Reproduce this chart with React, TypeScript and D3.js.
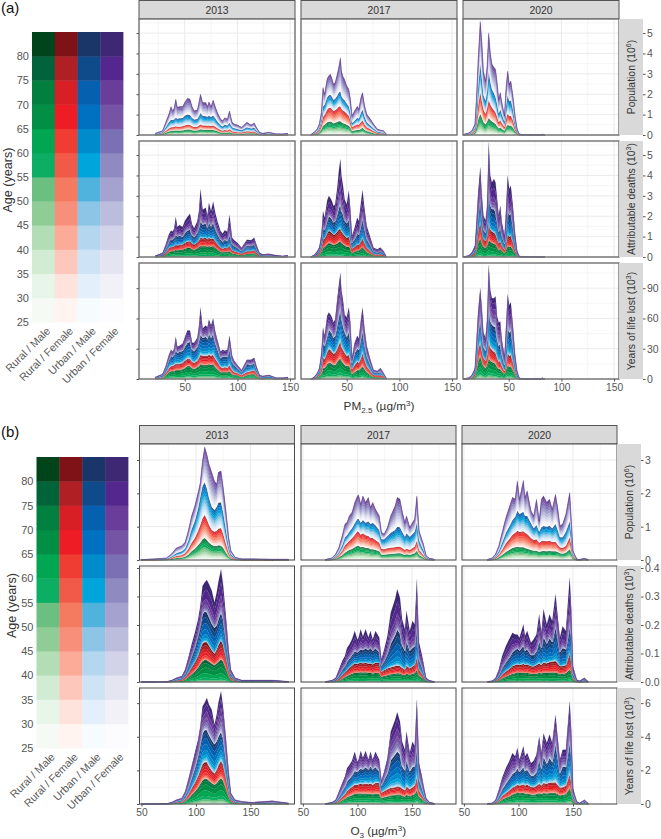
import React, { useEffect, useRef } from "react";
import * as d3 from "d3";

// cumulative stack tops: rural male, rural female, urban male, all groups
// units: population 10^4, PM deaths 10, O3 deaths 1, PM YLL 10^3, O3 YLL 10
const pm13X = [22,29,32,35,37,38.5,40,41.5,43,45,48,50,52.5,55,57,59,62,63.5,65,67,70,71.5,73,75,77,79,81,84,86,88,90.5,92.5,95,97,100,104,109,113,116,118,121,124,130,137,143,148];
const pm13PopRM = [1,4,11,17,20,20,21,22,21,21,22,25,27,27,23,21,22,25,28,26,25,24,25,24,25,22,18,12,11,12,11,13,9,8,7,6,9,8,8,6,2,1,1,1,1,1];
const pm13PopRF = [2,7,20,32,38,38,39,43,41,41,43,47,50,49,43,39,40,46,52,47,46,45,46,44,46,40,33,24,21,24,22,28,19,16,14,12,18,16,17,11,4,2,3,1,1,2];
const pm13PopUM = [5,13,38,62,75,74,76,85,80,82,84,94,100,98,84,76,78,92,108,94,92,90,94,88,96,82,66,48,42,50,47,60,38,33,29,23,38,32,35,22,8,4,7,3,3,4];
const pm13PopAll = [8,21,62,103,140,119,131,176,136,140,140,160,180,176,140,119,124,160,201,160,160,140,163,140,172,140,111,78,70,85,78,119,62,54,49,38,62,49,59,38,13,8,13,5,5,8];
const pm13DeaRM = [1,4,13,26,30,30,32,36,34,36,37,42,46,47,40,36,44,50,55,54,55,50,55,52,55,46,38,27,25,28,26,30,19,17,14,10,16,18,20,13,4,2,3,1,1,1];
const pm13DeaRF = [2,7,23,45,50,51,54,60,58,60,62,70,76,78,67,62,72,84,95,92,95,88,95,88,92,78,65,46,42,47,44,56,34,29,25,18,30,30,34,24,8,4,5,3,2,3];
const pm13DeaUM = [4,13,42,75,88,86,94,110,100,106,100,118,130,135,108,98,120,145,176,160,165,145,170,150,170,140,115,85,75,85,80,110,62,55,46,30,58,55,62,42,14,8,10,5,3,5];
const pm13DeaAll = [6,21,62,112,130,124,140,196,147,157,147,175,196,212,160,141,176,225,332,232,242,201,265,225,271,217,176,127,114,131,124,206,95,82,70,45,85,82,95,62,21,13,16,8,5,8];
const pm13YllRM = [0,1,4,7,8,8,8,9,9,9,10,11,13,13,11,10,12,13,15,14,14,14,15,14,15,12,10,7,7,7,7,8,5,4,4,2,4,5,5,3,1,0,1,0,0,0];
const pm13YllRF = [1,2,6,11,13,13,14,15,15,15,16,18,20,20,17,16,18,21,24,23,23,23,24,23,24,20,17,12,11,12,11,14,9,7,6,4,7,8,9,6,2,1,1,0,0,1];
const pm13YllUM = [1,4,10,19,23,22,24,29,26,27,28,32,36,37,29,28,32,38,44,41,42,40,45,41,45,36,30,21,22,22,22,30,17,14,11,7,15,14,16,10,3,2,3,1,1,1];
const pm13YllAll = [2,5,13,24,29,27,30,42,32,33,35,41,48,48,36,36,41,52,71,50,53,51,59,53,60,47,39,27,29,28,29,43,23,18,14,9,19,19,21,13,4,3,4,1,1,2];

const pm17X = [16,19,22,24,26,27.5,29,31.5,33,34.5,36,37.5,39,41,42.5,44,45,46.5,48,50,52,53.5,55,57.5,60,61.5,63.5,65,67,69,72.5,75.5,79,82,85,87.5];
const pm17PopRM = [0,3,6,12,28,45,50,62,65,66,62,57,60,64,68,68,62,58,55,50,45,35,18,22,25,25,30,35,25,18,13,9,5,4,3,1];
const pm17PopRF = [1,6,12,24,55,90,98,125,133,135,127,118,122,130,140,140,128,120,115,105,95,72,38,45,52,50,62,72,52,38,28,19,10,8,7,2];
const pm17PopUM = [1,9,19,36,80,140,148,185,195,198,188,172,178,192,208,215,190,178,170,155,140,108,58,70,85,80,108,125,88,62,46,32,17,14,11,3];
const pm17PopAll = [2,13,29,54,111,234,201,278,291,299,278,250,258,299,335,380,315,287,274,242,225,176,95,119,141,127,185,209,144,103,78,54,29,24,21,5];
const pm17DeaRM = [0,2,7,12,28,48,50,64,70,68,64,60,62,68,74,78,70,64,58,52,52,42,22,27,34,33,42,50,38,26,16,8,7,8,5,1];
const pm17DeaRF = [1,4,12,22,50,88,92,118,130,125,118,110,112,125,135,140,125,115,105,95,100,78,42,50,62,60,78,92,70,48,30,15,13,16,10,2];
const pm17DeaUM = [1,7,20,35,78,140,135,180,200,195,185,170,175,210,240,260,225,210,180,165,185,140,70,88,115,110,155,190,140,90,58,28,24,28,18,3];
const pm17DeaAll = [2,10,29,49,111,225,193,278,299,290,274,250,258,338,421,479,399,350,283,258,325,235,103,144,193,176,266,327,234,152,95,45,38,46,29,5];
const pm17YllRM = [0,0,2,3,6,11,11,15,16,16,15,14,14,17,19,21,18,16,14,13,13,11,5,7,9,9,11,13,10,7,4,2,2,2,1,0];
const pm17YllRF = [0,1,3,5,12,21,20,27,30,29,27,25,26,30,34,38,32,29,26,23,24,19,10,14,17,16,21,26,19,13,8,4,4,4,3,0];
const pm17YllUM = [0,1,5,8,19,36,33,43,49,47,45,41,43,54,62,70,60,53,47,42,47,38,16,26,30,29,40,48,34,23,14,7,6,7,4,1];
const pm17YllAll = [0,2,6,11,26,51,43,63,66,64,61,56,59,79,93,105,88,78,64,61,71,56,21,36,43,40,59,71,49,33,19,9,8,11,6,1];

const pm20X = [7,12,15,18,19.5,21,23,24.5,26,28,29.5,31,32.5,34,36,37.5,39,40.5,42,43.5,46,47.5,49,50.5,52,54,56,58,60,63,80,82,84];
const pm20PopRM = [0,2,4,12,40,75,103,85,62,52,65,84,74,66,60,54,42,32,35,30,20,38,50,45,46,36,18,5,1,0,0,1,0];
const pm20PopRF = [1,4,9,24,75,145,209,165,125,103,130,172,150,135,122,110,88,62,72,58,38,80,105,92,95,72,35,10,2,0,0,1,0];
const pm20PopUM = [1,6,13,35,120,235,348,275,195,168,215,310,260,225,205,185,150,105,125,100,65,145,195,165,170,125,60,18,3,1,0,2,0];
const pm20PopAll = [2,10,21,54,193,372,560,454,315,266,340,503,405,349,332,324,258,176,209,160,95,234,315,250,266,192,95,29,5,2,0,4,0];
const pm20DeaRM = [0,1,5,12,42,72,96,70,52,45,60,84,76,70,66,62,50,36,42,32,20,38,55,50,52,38,20,5,1,0,0,0,0];
const pm20DeaRF = [1,3,9,22,75,130,178,130,90,78,105,170,135,125,120,112,92,68,80,58,36,75,115,100,105,75,38,10,2,0,0,1,0];
const pm20DeaUM = [1,4,14,34,118,205,292,200,135,120,165,350,255,235,235,220,175,125,155,105,65,145,245,205,215,155,72,19,3,1,0,2,0];
const pm20DeaAll = [2,7,23,56,186,317,440,300,203,178,252,562,399,366,382,366,284,203,252,170,105,235,399,333,350,252,121,31,5,2,0,3,0];
const pm20YllRM = [0,0,1,3,11,18,23,18,13,11,15,21,18,17,16,15,12,10,10,8,5,10,14,12,13,9,5,1,0,0,0,0,0];
const pm20YllRF = [0,1,2,5,18,30,36,28,21,18,24,38,31,29,27,26,21,17,18,13,8,17,26,23,24,17,8,2,0,0,0,0,0];
const pm20YllUM = [0,1,3,8,27,45,61,45,32,28,39,73,58,54,52,52,40,33,35,24,14,33,54,46,48,34,16,5,1,0,0,1,0];
const pm20YllAll = [0,1,4,11,40,68,90,70,46,41,60,113,88,80,80,82,62,56,57,39,23,53,84,73,76,53,25,8,1,0,0,1,0];

const o13X = [50,62,73,77.5,82,87,90,93,96,99,102,104,106,108,110,112,114.5,117,119,120.5,123,125,127.5,130,132,136,142,151,170,185];
const o13PopRM = [0,0,1,3,6,7,10,16,26,34,45,52,62,66,60,52,45,42,42,44,43,36,22,10,4,1,0,0,0,0];
const o13PopRF = [0,1,2,6,12,14,20,33,52,66,88,105,125,135,122,105,90,85,88,94,96,78,48,22,9,3,1,1,1,1];
const o13PopUM = [1,2,4,10,20,26,34,58,92,118,155,190,222,233,215,185,160,150,160,172,173,142,90,42,17,5,2,2,1,1];
const o13PopAll = [1,3,6,18,36,43,53,88,133,163,203,233,298,340,318,288,263,238,228,263,268,218,148,68,28,8,3,3,2,2];
const o13DeaRM = [0,0,0,1,3,5,9,18,28,38,52,64,74,78,77,72,65,60,66,72,80,72,50,24,9,2,1,1,1,0];
const o13DeaRF = [0,0,0,2,6,9,18,34,52,70,95,118,135,140,140,128,112,100,115,130,147,130,90,45,18,5,2,2,2,0];
const o13DeaUM = [0,0,1,4,10,15,30,58,90,122,165,200,238,248,245,228,205,190,200,220,245,220,150,78,30,9,4,4,4,1];
const o13DeaAll = [0,0,1,6,15,21,44,85,132,173,220,267,337,349,358,343,320,279,314,349,396,337,231,115,44,15,7,7,7,2];
const o13YllRM = [0,0,0,2,6,9,18,34,55,75,100,122,142,150,150,138,125,115,125,140,155,140,95,46,16,5,2,1,2,1];
const o13YllRF = [0,0,1,4,10,15,30,60,95,128,170,205,238,248,250,225,200,182,205,230,257,232,160,80,28,9,5,3,5,2];
const o13YllUM = [0,1,1,6,16,24,50,96,155,215,290,360,420,440,440,410,380,355,375,400,430,390,265,135,46,16,8,5,10,3];
const o13YllAll = [0,1,2,10,26,36,75,145,224,305,384,461,580,602,630,590,560,471,531,600,670,570,392,194,65,26,16,10,20,6];

const o17X = [70.5,76.5,80,83,86,88.5,90.5,92.5,95,97.5,100,101,103,105,107.5,110,112,114,116.5,120,122,124.5,127.5,130.5,134.5,136.5,139,141,143.5,145,148,150.5,152.5,154.5,156.5,159,160.5,163,166,170.5];
const o17PopRM = [0,1,4,8,14,22,26,30,33,38,43,43,38,40,36,36,32,32,30,26,16,16,17,18,19,20,20,18,15,17,15,18,20,28,15,10,7,2,1,0];
const o17PopRF = [0,2,7,15,28,44,50,58,65,75,86,85,76,80,74,72,66,66,60,52,34,32,35,37,38,40,40,36,30,34,30,36,40,58,30,20,14,4,2,1];
const o17PopUM = [1,4,11,24,44,68,74,85,95,110,123,124,112,120,112,116,108,112,104,90,62,62,72,82,90,100,98,85,70,80,70,78,85,112,60,40,30,8,3,1];
const o17PopAll = [1,6,18,38,73,108,113,133,143,173,193,196,168,193,173,188,158,173,153,133,83,78,98,133,163,188,183,148,113,133,98,113,123,193,88,63,48,13,5,2];
const o17DeaRM = [0,1,2,6,13,18,22,26,30,34,33,34,35,34,35,33,33,31,33,32,19,22,25,28,30,32,31,27,25,30,26,30,32,44,24,17,12,3,1,0];
const o17DeaRF = [0,2,4,13,25,34,42,50,58,66,64,66,68,66,68,65,66,62,68,68,36,42,48,52,56,58,56,50,44,58,48,54,60,91,45,30,22,5,2,0];
const o17DeaUM = [1,4,9,24,44,56,72,82,95,108,104,108,115,112,118,112,120,110,118,105,58,74,100,135,165,185,170,130,110,145,110,120,125,197,80,55,38,9,3,1];
const o17DeaAll = [1,6,15,44,74,91,120,131,150,179,148,156,185,159,185,156,179,149,179,156,80,114,161,243,290,325,296,220,185,249,179,214,202,360,138,97,68,15,6,2];
const o17YllRM = [0,2,5,12,24,32,42,48,54,62,62,64,64,62,64,60,62,58,62,60,36,42,46,52,54,58,56,50,45,55,47,55,60,85,45,32,22,6,2,0];
const o17YllRF = [1,4,9,22,44,60,78,90,102,115,115,118,120,118,122,118,122,115,125,125,68,78,88,96,100,105,102,92,82,105,88,100,110,164,82,56,40,10,3,1];
const o17YllUM = [1,7,15,42,78,105,135,150,170,198,190,200,210,205,218,205,224,205,220,195,110,145,185,260,295,313,295,225,200,265,195,220,225,343,150,100,70,20,6,2];
const o17YllAll = [2,10,25,75,125,164,214,230,257,311,250,263,315,273,315,263,311,263,311,263,139,194,273,430,500,546,491,370,323,430,305,370,343,620,243,170,115,35,12,4];

const o20X = [71.5,76,79,82,85,88.5,91.5,94.5,97,99,101,104.5,106,108,111.5,114,116.5,119,121,123,126,128.5,131,134,136,138,140.5,143.5,147,148.5,150,153.5,156,160.5,164];
const o20PopRM = [0,1,3,8,15,24,30,36,38,40,38,38,36,34,30,28,28,24,26,27,26,27,26,26,24,20,19,22,32,22,6,0,0,1,0];
const o20PopRF = [0,2,7,16,31,50,62,76,82,88,84,86,82,78,66,60,62,52,56,58,56,58,54,55,46,38,36,42,68,44,12,1,0,2,0];
const o20PopUM = [1,4,11,27,52,82,100,120,130,148,138,145,132,133,110,95,105,85,98,102,100,103,95,108,90,68,68,85,116,75,18,2,1,3,1];
const o20PopAll = [1,6,18,43,83,128,158,188,183,238,183,240,188,208,148,133,183,118,183,193,173,183,153,198,158,103,108,138,203,118,28,3,1,5,1];
const o20DeaRM = [0,1,2,7,14,20,25,30,32,35,33,34,32,33,30,29,30,33,31,34,33,34,34,34,32,28,30,32,44,36,10,1,0,1,0];
const o20DeaRF = [0,2,4,13,27,38,46,56,60,62,60,64,60,62,56,55,60,66,60,68,66,70,72,74,66,56,56,60,100,72,16,2,1,3,0];
const o20DeaUM = [1,3,8,24,50,70,85,105,112,118,110,128,110,115,95,95,108,145,120,160,135,155,140,195,155,105,120,115,197,160,30,4,2,8,1];
const o20DeaAll = [1,4,15,44,91,126,150,173,167,167,155,202,161,179,138,150,167,237,173,255,202,237,214,308,231,155,196,179,366,255,56,9,4,15,2];
const o20YllRM = [0,1,4,14,28,38,46,58,62,71,65,68,62,64,58,57,60,65,60,66,64,66,66,66,60,52,55,60,95,70,18,2,1,3,0];
const o20YllRF = [1,3,7,24,48,66,80,98,105,115,110,118,110,115,102,100,108,120,110,125,120,128,128,130,115,98,100,108,178,130,30,4,2,6,1];
const o20YllUM = [1,4,14,46,88,122,150,180,190,214,190,220,195,205,170,170,190,270,210,283,240,275,250,362,280,185,225,220,372,290,55,8,3,14,2];
const o20YllAll = [2,6,26,85,155,214,253,303,283,333,263,343,283,303,243,257,293,400,303,420,363,413,363,530,393,263,323,323,610,432,95,16,6,26,4];

// age bands, youngest first, and how each group's height splits over them
const ageBands = [25,30,35,40,45,50,55,60,65,70,75,80];
const popAgeShare = [0.08,0.09,0.1,0.1,0.11,0.11,0.11,0.1,0.08,0.06,0.04,0.02];
const deathShareGreen = [0.002,0.004,0.006,0.012,0.02,0.05,0.1,0.2,0.25,0.2,0.11,0.046];
const deathShareMid = [0.002,0.003,0.005,0.01,0.015,0.03,0.06,0.12,0.17,0.2,0.2,0.185];
const deathSharePurple = [0.001,0.002,0.003,0.005,0.01,0.015,0.03,0.06,0.1,0.17,0.3,0.304];
const yllShareGreen = [0.005,0.01,0.015,0.03,0.05,0.08,0.13,0.22,0.22,0.14,0.07,0.03];
const yllShareMid = [0.004,0.006,0.012,0.02,0.035,0.06,0.09,0.15,0.18,0.18,0.15,0.113];
const yllSharePurple = [0.003,0.004,0.008,0.012,0.025,0.04,0.06,0.1,0.15,0.19,0.22,0.188];

const groups = ["Rural / Male","Rural / Female","Urban / Male","Urban / Female"];
const greens = ["#f5faf5","#e8f5e9","#d2ebd3","#b3deb5","#8fcc96","#6bbf80","#0bae62","#00a651","#008f45","#007f3f","#00633a","#00441b"];
const reds = ["#fff4ef","#fee3dc","#fdc7bb","#fcab99","#f88f7a","#f47a60","#f15a49","#ef3d34","#ee1c25","#d91f26","#b01f24","#7f1216"];
const blues = ["#f6fbfe","#e3f0fb","#cfe3f7","#b4d7ef","#8cc5e6","#4fb3de","#00a5db","#008ccc","#0070c0","#0560b0","#0f4a8a","#1a3668"];
const purples = ["#fcfbfd","#f2f1f8","#e5e5f2","#d2d2e8","#bcbddc","#a6a2d0","#8f8ac0","#7c70b4","#7554a6","#6a3d9a","#54278f","#3f2873"];
const palettes = [greens, reds, blues, purples];

const years = ["2013","2017","2020"];
// per measure, per group
const ageShares = [
  [popAgeShare, popAgeShare, popAgeShare, popAgeShare],
  [deathShareGreen, deathShareMid, deathShareMid, deathSharePurple],
  [yllShareGreen, yllShareMid, yllShareMid, yllSharePurple],
];

const pmColumns = [
  { x: pm13X, rows: [[pm13PopRM,pm13PopRF,pm13PopUM,pm13PopAll],[pm13DeaRM,pm13DeaRF,pm13DeaUM,pm13DeaAll],[pm13YllRM,pm13YllRF,pm13YllUM,pm13YllAll]] },
  { x: pm17X, rows: [[pm17PopRM,pm17PopRF,pm17PopUM,pm17PopAll],[pm17DeaRM,pm17DeaRF,pm17DeaUM,pm17DeaAll],[pm17YllRM,pm17YllRF,pm17YllUM,pm17YllAll]] },
  { x: pm20X, rows: [[pm20PopRM,pm20PopRF,pm20PopUM,pm20PopAll],[pm20DeaRM,pm20DeaRF,pm20DeaUM,pm20DeaAll],[pm20YllRM,pm20YllRF,pm20YllUM,pm20YllAll]] },
];
const oColumns = [
  { x: o13X, rows: [[o13PopRM,o13PopRF,o13PopUM,o13PopAll],[o13DeaRM,o13DeaRF,o13DeaUM,o13DeaAll],[o13YllRM,o13YllRF,o13YllUM,o13YllAll]] },
  { x: o17X, rows: [[o17PopRM,o17PopRF,o17PopUM,o17PopAll],[o17DeaRM,o17DeaRF,o17DeaUM,o17DeaAll],[o17YllRM,o17YllRF,o17YllUM,o17YllAll]] },
  { x: o20X, rows: [[o20PopRM,o20PopRF,o20PopUM,o20PopAll],[o20DeaRM,o20DeaRF,o20DeaUM,o20DeaAll],[o20YllRM,o20YllRF,o20YllUM,o20YllAll]] },
];

const FONT = "'Liberation Sans', Arial, sans-serif";
const GREY = "#555";

// one facet block, (a) or (b)
const blockA = {
  tag: "(a)", tagY: 13, columns: pmColumns, border: "#707070", borderW: 1.4,
  colX: [139, 301, 463], panelW: 156, rowY: [19, 141, 263], panelH: 116, stripY: 0,
  xDomain: [6.6, 154.7], xMajor: [50, 100, 150], xMinor: [25, 75, 125],
  measures: [
    { label: "Population", exp: "6", divide: 100, max: 5.69, ticks: [0,1,2,3,4,5], fmt: "d" },
    { label: "Attributable deaths", exp: "3", divide: 100, max: 5.69, ticks: [0,1,2,3,4,5], fmt: "d" },
    { label: "Years of life lost", exp: "3", divide: 1, max: 115, ticks: [0,30,60,90], fmt: "d" },
  ],
  heat: { x0: 32, x1: 123, y0: 32, y1: 322 }, ageX: 12,
  xTitle: "PM", xSub: "2.5",
};
const blockB = {
  tag: "(b)", tagY: 437, columns: oColumns, border: "#4a4a4a", borderW: 1,
  colX: [139.5, 301, 462], panelW: 155, rowY: [444, 566, 688], panelH: 116, stripY: 425,
  xDomain: [48.2, 190.4], xMajor: [50, 100, 150], xMinor: [75, 125, 175],
  measures: [
    { label: "Population", exp: "6", divide: 100, max: 3.48, ticks: [0,1,2,3], fmt: "d" },
    { label: "Attributable deaths", exp: "3", divide: 1000, max: 0.407, ticks: [0,0.1,0.2,0.3,0.4], fmt: ".1f" },
    { label: "Years of life lost", exp: "3", divide: 100, max: 6.9, ticks: [0,2,4,6], fmt: "d" },
  ],
  heat: { x0: 36.5, x1: 128, y0: 457, y1: 748 }, ageX: 16,
  xTitle: "O", xSub: "3",
};

function addTitle(sel: any, parts: any[]) {
  // parts: [text, "sub" | "sup" | null]
  let shift = 0;
  parts.forEach(([txt, kind]) => {
    const target = kind === "sub" ? 2.5 : kind === "sup" ? -4 : 0;
    sel.append("tspan")
      .attr("dy", target - shift)
      .style("font-size", kind ? "0.68em" : null)
      .text(txt);
    shift = target;
  });
}

function drawHeat(root: any, b: any) {
  const x = d3.scaleBand().domain(groups).range([b.heat.x0, b.heat.x1]);
  const y = d3.scaleLinear().domain([25, 85]).range([b.heat.y1, b.heat.y0]);
  const g = root.append("g");
  groups.forEach((name, i) => {
    g.selectAll(null).data(ageBands).join("rect")
      .attr("x", x(name)).attr("width", x.bandwidth() + 0.4)
      .attr("y", (a: number) => y(a + 5)).attr("height", (a: number) => y(a) - y(a + 5) + 0.4)
      .attr("fill", (_: number, j: number) => palettes[i][j]);
    g.append("text")
      .attr("transform", `translate(${x(name)! + x.bandwidth() / 2 + 5},${b.heat.y1 + 7}) rotate(-45)`)
      .attr("text-anchor", "end").attr("dy", "0.35em")
      .attr("fill", "#5a5a5a").style("font-size", "10.8px").text(name);
  });
  const axis = root.append("g").attr("transform", `translate(${b.heat.x0},0)`)
    .call(d3.axisLeft(y).tickValues(ageBands).tickSize(0).tickPadding(3));
  axis.select(".domain").remove();
  axis.selectAll("text").attr("fill", GREY).style("font-size", "11px").style("font-family", FONT);
  root.append("text")
    .attr("transform", `translate(${b.ageX},${(b.heat.y0 + b.heat.y1) / 2 + 3}) rotate(-90)`)
    .attr("text-anchor", "middle").style("font-size", "12.6px").attr("fill", "#333").text("Age (years)");
}

function drawPanel(g: any, col: any, cum: number[][], shares: number[][], x: any, y: any, divide: number) {
  const keys: string[] = [];
  groups.forEach((_, i) => ageBands.forEach((_a, j) => keys.push(`${i}-${j}`)));
  const table = col.x.map((xv: number, k: number) => {
    const row: any = { x: xv };
    const cums = cum.map((s) => s[k] / divide);
    groups.forEach((_, i) => {
      const h = Math.max(0, cums[i] - (i ? cums[i - 1] : 0));
      ageBands.forEach((_a, j) => { row[`${i}-${j}`] = h * shares[i][j]; });
    });
    return row;
  });
  const layers = d3.stack().keys(keys)(table);
  const area = d3.area<any>().x((d) => x(d.data.x)).y0((d) => y(d[0])).y1((d) => y(d[1]));
  g.selectAll(null).data(layers).join("path")
    .attr("d", area)
    .attr("fill", (l: any) => { const [i, j] = l.key.split("-").map(Number); return palettes[i][j]; })
    .attr("stroke", (l: any) => { const [i, j] = l.key.split("-").map(Number); return palettes[i][j]; })
    .attr("stroke-width", 0.1);
}

function drawBlock(root: any, b: any) {
  root.append("text").attr("x", 1).attr("y", b.tagY).style("font-size", "15px").attr("fill", "#111").text(b.tag);
  drawHeat(root, b);

  const lastCol = b.colX.length - 1;
  const stripR = b.colX[lastCol] + b.panelW;

  years.forEach((yr, c) => {
    root.append("rect").attr("x", b.colX[c]).attr("y", b.stripY + 0.5).attr("width", b.panelW).attr("height", 18.5)
      .attr("fill", "#d9d9d9").attr("stroke", "#555").attr("stroke-width", 1);
    root.append("text").attr("x", b.colX[c] + b.panelW / 2).attr("y", b.stripY + 13.5)
      .attr("text-anchor", "middle").style("font-size", "10.4px").attr("fill", "#333").text(yr);
  });

  b.measures.forEach((m: any, r: number) => {
    const top = b.rowY[r];
    const y = d3.scaleLinear().domain([0, m.max]).range([top + b.panelH, top]);
    const step = m.ticks[1] - m.ticks[0];
    const minorY = d3.range(step / 2, m.max, step);

    b.columns.forEach((col: any, c: number) => {
      const left = b.colX[c];
      const x = d3.scaleLinear().domain(b.xDomain).range([left, left + b.panelW]);
      const g = root.append("g");
      g.append("rect").attr("x", left).attr("y", top).attr("width", b.panelW).attr("height", b.panelH).attr("fill", "#fff");
      g.selectAll(null).data(minorY).join("line")
        .attr("x1", left).attr("x2", left + b.panelW).attr("y1", y).attr("y2", y)
        .attr("stroke", "#f0f0f0").attr("stroke-width", 0.6);
      g.selectAll(null).data(b.xMinor).join("line")
        .attr("y1", top).attr("y2", top + b.panelH).attr("x1", x).attr("x2", x)
        .attr("stroke", "#f0f0f0").attr("stroke-width", 0.6);
      g.selectAll(null).data(m.ticks).join("line")
        .attr("x1", left).attr("x2", left + b.panelW).attr("y1", y).attr("y2", y)
        .attr("stroke", "#e8e8e8").attr("stroke-width", 0.9);
      g.selectAll(null).data(b.xMajor).join("line")
        .attr("y1", top).attr("y2", top + b.panelH).attr("x1", x).attr("x2", x)
        .attr("stroke", "#e8e8e8").attr("stroke-width", 0.9);

      drawPanel(g, col, col.rows[r], ageShares[r], x, y, m.divide);

      g.append("rect").attr("x", left).attr("y", top).attr("width", b.panelW).attr("height", b.panelH)
        .attr("fill", "none").attr("stroke", b.border).attr("stroke-width", b.borderW);

      if (r === 2) {
        const ax = root.append("g").attr("transform", `translate(0,${top + b.panelH})`)
          .call(d3.axisBottom(x).tickValues(b.xMajor).tickSize(2.5).tickPadding(2));
        ax.select(".domain").remove();
        ax.selectAll("line").attr("stroke", "#555");
        ax.selectAll("text").attr("fill", GREY).style("font-size", "10.2px").style("font-family", FONT);
      }
      if (c === 0) {
        const ax = root.append("g").attr("transform", `translate(${left},0)`)
          .call(d3.axisLeft(y).tickValues(m.ticks).tickSize(2.5).tickFormat(() => ""));
        ax.select(".domain").remove();
        ax.selectAll("line").attr("stroke", "#555");
      }
    });

    // right strip and the value axis beyond it
    root.append("rect").attr("x", stripR).attr("y", top).attr("width", 24).attr("height", b.panelH)
      .attr("fill", "#d9d9d9");
    const lab = root.append("text")
      .attr("transform", `translate(${stripR + 15.5},${top + b.panelH / 2}) rotate(-90)`)
      .attr("text-anchor", "middle").style("font-size", "10.4px").attr("fill", "#333");
    addTitle(lab, [[`${m.label} (10`, null], [m.exp, "sup"], [")", null]]);
    const ax = root.append("g").attr("transform", `translate(${stripR + 24},0)`)
      .call(d3.axisRight(y).tickValues(m.ticks).tickSize(2.5).tickPadding(1.5).tickFormat(d3.format(m.fmt)));
    ax.select(".domain").remove();
    ax.selectAll("line").attr("stroke", "#555");
    ax.selectAll("text").attr("fill", GREY).style("font-size", "10.5px").style("font-family", FONT);
  });

  const title = root.append("text")
    .attr("x", (b.colX[0] + stripR) / 2).attr("y", b.rowY[2] + b.panelH + 31)
    .attr("text-anchor", "middle").style("font-size", "11.8px").attr("fill", "#333");
  addTitle(title, [[b.xTitle, null], [b.xSub, "sub"], [" (µg/m", null], ["3", "sup"], [")", null]]);
}

export default function App() {
  const ref = useRef<SVGSVGElement>(null);
  useEffect(() => {
    const root = d3.select(ref.current).style("font-family", FONT);
    root.selectAll("*").remove();
    drawBlock(root, blockA);
    drawBlock(root, blockB);
  }, []);
  return (
    <svg ref={ref} width={661} height={839}
      style={{ position: "absolute", left: 0, top: 0, display: "block", background: "#fff" }} />
  );
}
